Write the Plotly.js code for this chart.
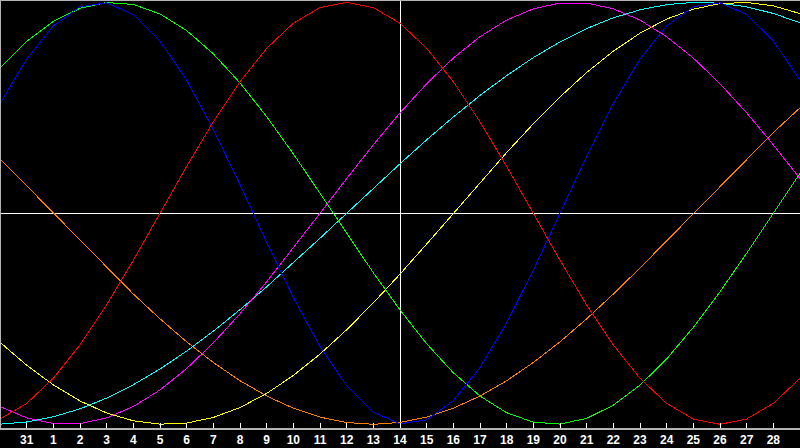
<!DOCTYPE html>
<html><head><meta charset="utf-8">
<script src="https://cdn.plot.ly/plotly-3.0.1.min.js"></script>
<style>
html,body{margin:0;padding:0;background:#000;overflow:hidden}
#chart{width:800px;height:448px}
.js-plotly-plot .scatterlayer path{shape-rendering:crispEdges}
.js-plotly-plot .layer-below path{shape-rendering:crispEdges}
.js-plotly-plot .layer-above path{shape-rendering:crispEdges}
</style>
</head><body><div id="chart"></div>
<script>
// day labels for each plotted day (previous month 30, 31, then 1..29)
const dayLabels = ['30','31','1','2','3','4','5','6','7','8','9','10','11','12','13','14','15','16','17','18','19','20','21','22','23','24','25','26','27','28','29'];
const shownTickLabels = ['31','1','2','3','4','5','6','7','8','9','10','11','12','13','14','15','16','17','18','19','20','21','22','23','24','25','26','27','28'];
const todayLabel = '14';

// series values (-1 .. 1)
const physical     = [0.5196,0.7308,0.8879,0.9791,0.9977,0.9423,0.8170,0.6311,0.3984,0.1362,-0.1362,-0.3984,-0.6311,-0.8170,-0.9423,-0.9977,-0.9791,-0.8879,-0.7308,-0.5196,-0.2698,0,0.2698,0.5196,0.7308,0.8879,0.9791,0.9977,0.9423,0.8170,0.6311];
const emotional    = [-0.9749,-0.9010,-0.7818,-0.6235,-0.4339,-0.2225,0,0.2225,0.4339,0.6235,0.7818,0.9010,0.9749,1,0.9749,0.9010,0.7818,0.6235,0.4339,0.2225,0,-0.2225,-0.4339,-0.6235,-0.7818,-0.9010,-0.9749,-1,-0.9749,-0.9010,-0.7818];
const intellectual = [0.6901,0.8146,0.9096,0.9718,0.9989,0.9898,0.9450,0.8660,0.7557,0.6182,0.4582,0.2817,0.0951,-0.0951,-0.2817,-0.4582,-0.6182,-0.7557,-0.8660,-0.9450,-0.9898,-0.9989,-0.9718,-0.9096,-0.8146,-0.6901,-0.5406,-0.3717,-0.1893,0,0.1893];
const intuitive    = [-0.9158,-0.9694,-0.9966,-0.9966,-0.9694,-0.9158,-0.8372,-0.7357,-0.6142,-0.4759,-0.3247,-0.1646,0,0.1646,0.3247,0.4759,0.6142,0.7357,0.8372,0.9158,0.9694,0.9966,0.9966,0.9694,0.9158,0.8372,0.7357,0.6142,0.4759,0.3247,0.1646];
const aesthetic    = [-0.6112,-0.7199,-0.8133,-0.8893,-0.9464,-0.9834,-0.9993,-0.9940,-0.9675,-0.9205,-0.8536,-0.7686,-0.6673,-0.5517,-0.4244,-0.2881,-0.1456,0,0.1456,0.2881,0.4244,0.5517,0.6673,0.7686,0.8536,0.9205,0.9675,0.9940,0.9993,0.9834,0.9464];
const awareness    = [0.2588,0.1305,0,-0.1305,-0.2588,-0.3827,-0.5,-0.6088,-0.7071,-0.7934,-0.8660,-0.9239,-0.9659,-0.9914,-1,-0.9914,-0.9659,-0.9239,-0.8660,-0.7934,-0.7071,-0.6088,-0.5,-0.3827,-0.2588,-0.1305,0,0.1305,0.2588,0.3827,0.5];
const spiritual    = [-0.9996,-0.9890,-0.9646,-0.9267,-0.8757,-0.8125,-0.7379,-0.6529,-0.5586,-0.4566,-0.3482,-0.2349,-0.1183,0,0.1183,0.2349,0.3482,0.4566,0.5586,0.6529,0.7379,0.8125,0.8757,0.9267,0.9646,0.9890,0.9996,0.9960,0.9785,0.9473,0.9028];

const xs = dayLabels.map((_, i) => i);
const tickVals = shownTickLabels.map(l => dayLabels.indexOf(l));
const todayX = dayLabels.indexOf(todayLabel);

function tr(y, color) {
  return {x: xs, y: y, type: 'scatter', mode: 'lines', line: {color: color, width: 1, shape: 'linear'}, hoverinfo: 'skip', showlegend: false};
}

const data = [
  tr(awareness, '#ff8000'),
  tr(spiritual, '#00ffff'),
  tr(aesthetic, '#ffff00'),
  tr(intuitive, '#ff00ff'),
  tr(intellectual, '#00ff00'),
  tr(emotional, '#ff0000'),
  tr(physical, '#0000ff')
];

const layout = {
  width: 800, height: 448,
  paper_bgcolor: '#000', plot_bgcolor: '#000',
  margin: {l: 0, r: 0, t: 0, b: 20, pad: 0},
  showlegend: false,
  xaxis: {
    range: [0, dayLabels.length - 1], fixedrange: true,
    showgrid: false, zeroline: false,
    showline: true, linecolor: '#b4b4b4', linewidth: 2,
    ticks: 'inside', ticklen: 5, tickwidth: 1, tickcolor: '#ffffff',
    tickvals: tickVals, ticktext: shownTickLabels,
    tickfont: {family: 'Liberation Sans, Arial, sans-serif', size: 12, color: '#ffffff', weight: 'bold'}
  },
  yaxis: {
    range: [-1.0175, 1.011], fixedrange: true,
    showgrid: false, zeroline: false, showticklabels: false, ticks: '', showline: false
  },
  shapes: [
    {type: 'line', xref: 'paper', yref: 'y', x0: 0, x1: 1, y0: 0, y1: 0, line: {color: '#ffffff', width: 1}, layer: 'below'},
    {type: 'line', xref: 'x', yref: 'paper', x0: todayX, x1: todayX, y0: 0, y1: 1, line: {color: '#ffffff', width: 1}, layer: 'below'},
    {type: 'line', xref: 'paper', yref: 'paper', x0: 0, x1: 1, y0: 1, y1: 1, line: {color: '#b4b4b4', width: 2}, layer: 'above'},
    {type: 'line', xref: 'paper', yref: 'paper', x0: 0, x1: 0, y0: 0, y1: 1, line: {color: '#b4b4b4', width: 2}, layer: 'above'}
  ]
};

Plotly.newPlot('chart', data, layout, {staticPlot: true, displayModeBar: false});
</script>
</body></html>
